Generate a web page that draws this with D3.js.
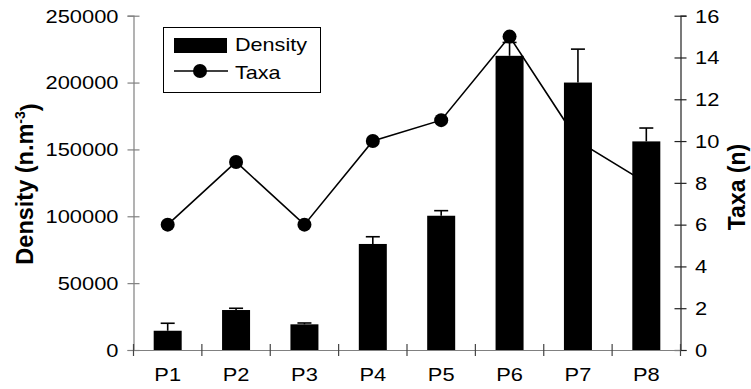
<!DOCTYPE html>
<html>
<head>
<meta charset="utf-8">
<script src="https://cdn.jsdelivr.net/npm/d3@7"></script>
<style>
  html, body { margin: 0; padding: 0; background: #fff; }
  svg { display: block; }
  text { font-family: "Liberation Sans", Arial, sans-serif; fill: #000; }
</style>
</head>
<body>
<svg id="chart" width="751" height="389"></svg>
<script>
// ---- data ----
const categories = ["P1", "P2", "P3", "P4", "P5", "P6", "P7", "P8"];
const density = [14400, 29900, 19200, 79300, 100400, 220000, 200000, 156000];
const densityErr = [5600, 1300, 1000, 5400, 3800, 10000, 25000, 10000];
const taxa = [6, 9, 6, 10, 11, 15, 10, 8];
const densityTicks = [0, 50000, 100000, 150000, 200000, 250000];
const taxaTicks = [0, 2, 4, 6, 8, 10, 12, 14, 16];

(function () {
// ---- layout ----
const pL = 133.5, pR = 680.5, pT = 15.7, pB = 350;
const SX = 1.25;        // horizontal text stretch seen in the reference
const FS = 17.5;        // tick font size

const svg = d3.select("#chart");

const x = d3.scaleBand().domain(categories).range([pL, pR]).paddingInner(0).paddingOuter(0);
const y = d3.scaleLinear().domain([0, 250000]).range([pB, pT]);
const y2 = d3.scaleLinear().domain([0, 16]).range([pB, pT]);

const gray = "#808080";

// left axis
const gL = svg.append("g").attr("transform", `translate(${pL},0)`)
  .call(d3.axisLeft(y).tickValues(densityTicks).tickSize(6).tickPadding(0).tickFormat(d3.format("d")));
gL.select(".domain").attr("stroke", gray).attr("stroke-width", 1.2);
gL.selectAll(".tick line").attr("stroke", gray).attr("stroke-width", 1.2).attr("x1", -6).attr("x2", 6);
gL.selectAll(".tick text")
  .attr("x", 0).attr("dy", "0.36em")
  .attr("transform", `translate(-15,0) scale(${SX},1)`)
  .style("font-size", FS + "px").style("font-family", "Liberation Sans, Arial, sans-serif")
  .attr("fill", "#000");

// right axis
const gR = svg.append("g").attr("transform", `translate(${pR},0)`)
  .call(d3.axisRight(y2).tickValues(taxaTicks).tickSize(6).tickPadding(0));
gR.select(".domain").attr("stroke", "#222").attr("stroke-width", 1.2);
gR.selectAll(".tick line").attr("stroke", "#222").attr("stroke-width", 1.2).attr("x1", -6).attr("x2", 6);
gR.selectAll(".tick text")
  .attr("x", 0).attr("dy", "0.36em")
  .attr("transform", `translate(14.5,0) scale(${SX},1)`)
  .style("font-size", FS + "px").style("font-family", "Liberation Sans, Arial, sans-serif")
  .attr("fill", "#000");

// bottom axis (labels at centers, ticks at boundaries)
const gB = svg.append("g").attr("transform", `translate(0,${pB})`)
  .call(d3.axisBottom(x).tickSize(0).tickPadding(0));
gB.select(".domain").attr("stroke", gray).attr("stroke-width", 1.2);
gB.selectAll(".tick text")
  .attr("y", 0).attr("dy", 0)
  .attr("transform", `translate(0,31) scale(${SX},1)`)
  .style("font-size", FS + "px").style("font-family", "Liberation Sans, Arial, sans-serif")
  .attr("fill", "#000");
const boundaries = categories.map(c => x(c)).concat([x.range()[1]]);
svg.append("g").selectAll("line").data(boundaries).join("line")
  .attr("x1", d => d).attr("x2", d => d)
  .attr("y1", pB - 6).attr("y2", pB + 6)
  .attr("stroke", "#444").attr("stroke-width", 1.2);

// taxa line + markers (drawn under bars)
const cx = c => x(c) + x.bandwidth() / 2;
const line = d3.line().x((d, i) => cx(categories[i])).y(d => y2(d));
svg.append("path").datum(taxa).attr("d", line)
  .attr("fill", "none").attr("stroke", "#000").attr("stroke-width", 1.6);
svg.append("g").selectAll("circle").data(taxa).join("circle")
  .attr("cx", (d, i) => cx(categories[i])).attr("cy", d => y2(d)).attr("r", 7)
  .attr("fill", "#000");

// bars
const bw = 28;
svg.append("g").selectAll("rect").data(density).join("rect")
  .attr("x", (d, i) => cx(categories[i]) - bw / 2)
  .attr("width", bw)
  .attr("y", d => y(d))
  .attr("height", d => y(0) - y(d))
  .attr("fill", "#000");

// error bars (upper only)
const eg = svg.append("g").attr("stroke", "#000").attr("stroke-width", 1.6);
eg.selectAll("line.stem").data(density).join("line").attr("class", "stem")
  .attr("x1", (d, i) => cx(categories[i])).attr("x2", (d, i) => cx(categories[i]))
  .attr("y1", d => y(d)).attr("y2", (d, i) => y(d + densityErr[i]));
eg.selectAll("line.cap").data(density).join("line").attr("class", "cap")
  .attr("x1", (d, i) => cx(categories[i]) - 7).attr("x2", (d, i) => cx(categories[i]) + 7)
  .attr("y1", (d, i) => y(d + densityErr[i])).attr("y2", (d, i) => y(d + densityErr[i]));

// axis titles
const tL = svg.append("text")
  .attr("transform", `translate(33,184) rotate(-90)`)
  .attr("text-anchor", "middle")
  .style("font-size", "23.5px").style("font-weight", "bold");
tL.append("tspan").text("Density (n.m");
tL.append("tspan").text("-3").attr("dy", "-0.55em").style("font-size", "14px");
tL.append("tspan").text(")").attr("dy", "0.55em");

svg.append("text")
  .attr("transform", `translate(745,187) rotate(-90)`)
  .attr("text-anchor", "middle")
  .style("font-size", "23px").style("font-weight", "bold")
  .text("Taxa (n)");

// legend
const lg = svg.append("g");
lg.append("rect").attr("x", 163.5).attr("y", 27.5).attr("width", 157).attr("height", 65)
  .attr("fill", "#fff").attr("stroke", "#000").attr("stroke-width", 1);
lg.append("rect").attr("x", 174).attr("y", 38).attr("width", 53).attr("height", 15).attr("fill", "#000");
lg.append("line").attr("x1", 174).attr("x2", 228).attr("y1", 71).attr("y2", 71)
  .attr("stroke", "#000").attr("stroke-width", 1.6);
lg.append("circle").attr("cx", 200).attr("cy", 71).attr("r", 7).attr("fill", "#000");
lg.append("text").attr("transform", `translate(235,51) scale(1.2,1)`)
  .style("font-size", "18px").text("Density");
lg.append("text").attr("transform", `translate(235,79) scale(1.2,1)`)
  .style("font-size", "18px").text("Taxa");
})();
</script>
</body>
</html>
